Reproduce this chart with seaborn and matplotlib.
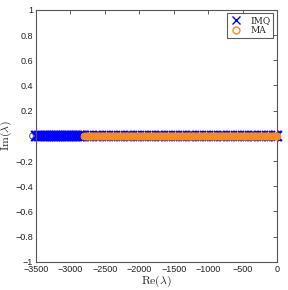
import pandas as pd
import seaborn as sns
import matplotlib.pyplot as plt
from matplotlib.lines import Line2D

# real parts of the eigenvalues (imag parts all zero)
imq_re = [-3500, -3480, -3460, -3440, -3420, -3400, -3380, -3360, -3340, -3320,
          -3300, -3280, -3260, -3240, -3220, -3200, -3180, -3160, -3140, -3120,
          -3100, -3080, -3060, -3040, -3020, -3000, -2980, -2960, -2940, -2920,
          -2900, -2880, -2860, -2840, -2820, -2800,
          -2750, -2700, -2650, -2600, -2550, -2500, -2450, -2400, -2350, -2300,
          -2250, -2200, -2150, -2100, -2050, -2000, -1950, -1900, -1850, -1800,
          -1750, -1700, -1650, -1600, -1550, -1500, -1450, -1400, -1350, -1300,
          -1250, -1200, -1150, -1100, -1050, -1000, -950, -900, -850, -800,
          -750, -700, -650, -600, -550, -500, -450, -400, -350, -300,
          -250, -200, -150, -100, -50, -20, 0]
ma_re = [-2800, -2780, -2760, -2740, -2720, -2700, -2680, -2660, -2640, -2620,
         -2600, -2580, -2560, -2540, -2520, -2500, -2480, -2460, -2440, -2420,
         -2400, -2380, -2360, -2340, -2320, -2300, -2280, -2260, -2240, -2220,
         -2200, -2180, -2160, -2140, -2120, -2100, -2080, -2060, -2040, -2020,
         -2000, -1980, -1960, -1940, -1920, -1900, -1880, -1860, -1840, -1820,
         -1800, -1780, -1760, -1740, -1720, -1700, -1680, -1660, -1640, -1620,
         -1600, -1580, -1560, -1540, -1520, -1500, -1480, -1460, -1440, -1420,
         -1400, -1380, -1360, -1340, -1320, -1300, -1280, -1260, -1240, -1220,
         -1200, -1180, -1160, -1140, -1120, -1100, -1080, -1060, -1040, -1020,
         -1000, -980, -960, -940, -920, -900, -880, -860, -840, -820,
         -800, -780, -760, -740, -720, -700, -680, -660, -640, -620,
         -600, -580, -560, -540, -520, -500, -480, -460, -440, -420,
         -400, -380, -360, -340, -320, -300, -280, -260, -240, -220,
         -200, -180, -160, -140, -120, -100, -80, -60, -40, -20, 0]
x_ticks = [-3500, -3000, -2500, -2000, -1500, -1000, -500, 0]
y_ticks = [-1, -0.8, -0.6, -0.4, -0.2, 0, 0.2, 0.4, 0.6, 0.8, 1]

imq = pd.DataFrame({'re': imq_re, 'im': [0.0] * len(imq_re)})
ma = pd.DataFrame({'re': ma_re, 'im': [0.0] * len(ma_re)})

blue = '#0000ff'
orange = '#f98c1f'

sns.set_style('white')
plt.rcParams['mathtext.fontset'] = 'cm'
plt.rcParams['font.family'] = ['Liberation Sans', 'DejaVu Sans']
fig = plt.figure(figsize=(2.88, 2.90), dpi=100)
ax = fig.add_axes([0.125, 0.097, 0.837, 0.869])

# markers only, no connecting line
sns.lineplot(data=imq, x='re', y='im', linestyle='none', marker='x', markersize=6.8,
             mew=1.3, color=blue, mec=blue, ax=ax, legend=False, zorder=2, clip_on=False)
sns.lineplot(data=ma, x='re', y='im', linestyle='none', marker='o', markersize=5.0,
             mew=0.6, color=orange, mfc=orange, mec=orange, ax=ax, legend=False,
             zorder=3, clip_on=False)

ax.set_xlim(-3500, 0)
ax.set_ylim(-1, 1)
ax.set_xticks(x_ticks)
ax.set_yticks(y_ticks)
ax.set_xticklabels([str(t).replace('-', '\u2212') for t in x_ticks])
ax.set_yticklabels([('%g' % t).replace('-', '\u2212') for t in y_ticks])
ax.tick_params(direction='in', length=3, width=0.6, labelsize=6.5, pad=2,
               top=True, right=True, colors='#444444', labelcolor='#222222')
for s in ax.spines.values():
    s.set_color('#555555')
    s.set_linewidth(0.8)
ax.set_xlabel(r'$\mathrm{Re}(\lambda)$', fontsize=8.5, labelpad=0)
ax.set_ylabel(r'$\mathrm{Im}(\lambda)$', fontsize=8.5, labelpad=1)

handles = [Line2D([], [], marker='x', color=blue, linestyle='none', markersize=6, mew=1),
           Line2D([], [], marker='o', color=orange, mfc='none', linestyle='none', markersize=5, mew=1)]
leg = ax.legend(handles, ['IMQ', 'MA'], loc='upper right',
                prop={'family': 'serif', 'size': 6.5}, frameon=True, fancybox=False,
                borderpad=0.3, handletextpad=0.8, labelspacing=0.1,
                borderaxespad=0.4, handlelength=1.5)
leg.get_frame().set_edgecolor('#333333')
leg.get_frame().set_linewidth(0.8)

plt.savefig('out.png', dpi=100)
